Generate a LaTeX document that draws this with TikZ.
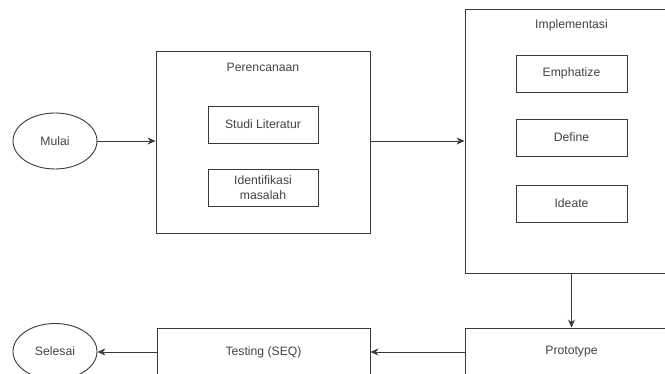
\documentclass[tikz,border=0pt]{standalone}
\usepackage{fontspec}
\setmainfont{Liberation Sans}
\usetikzlibrary{shapes.geometric,arrows.meta}
\definecolor{linec}{HTML}{3A3A3A}
\definecolor{textc}{HTML}{444444}
\begin{document}
\begin{tikzpicture}[x=1pt,y=-1pt,
  every node/.style={font=\fontsize{12.2}{15}\selectfont, text=textc},
  box/.style={draw=linec, line width=0.9pt, rectangle, inner sep=0pt, align=center},
  oval/.style={draw=linec, line width=0.9pt, ellipse, inner sep=0pt, minimum width=84pt, minimum height=56pt},
  title/.style={inner sep=0pt},
  conn/.style={draw=linec, line width=0.9pt, -{Stealth[length=8pt,width=7pt]}}]
\clip (0,0) rectangle (665,374);
\fill[white] (0,0) rectangle (665,374);
% start / end
\node[oval] (mulai) at (55,141) {Mulai};
\node[oval] (selesai) at (55,351.5) {Selesai};
% Perencanaan
\node[box, minimum width=214pt, minimum height=182pt] (peren) at (263,142) {};
\node[title] (perent) at (263,67) {Perencanaan};
\node[box, minimum width=110pt, minimum height=37pt] (studi) at (263,124.5) {Studi Literatur};
\node[box, minimum width=110pt, minimum height=37pt] (ident) at (263,187.5) {Identifikasi\\masalah};
% Implementasi
\node[box, minimum width=213pt, minimum height=264pt] (impl) at (571.5,141) {};
\node[title] (implt) at (571.5,25) {Implementasi};
\node[box, minimum width=111pt, minimum height=37pt] (emph) at (571.5,73.5) {Emphatize};
\node[box, minimum width=111pt, minimum height=37pt] (define) at (571.5,137.5) {Define};
\node[box, minimum width=111pt, minimum height=37pt] (ideate) at (571.5,203.5) {Ideate};
% bottom row
\node[box, minimum width=213pt, minimum height=48pt] (proto) at (571.5,352) {Prototype};
\node[box, minimum width=213pt, minimum height=48pt] (testing) at (263.5,352) {Testing (SEQ)};
% connectors
\draw[conn] (mulai.east) -- (mulai.east -| peren.west);
\draw[conn] (peren.east |- impl.west) -- (impl.west);
\draw[conn] (impl.south) -- (proto.north);
\draw[conn] (proto.west) -- (testing.east);
\draw[conn] (testing.west) -- (testing.west -| selesai.east);
\end{tikzpicture}
\end{document}
